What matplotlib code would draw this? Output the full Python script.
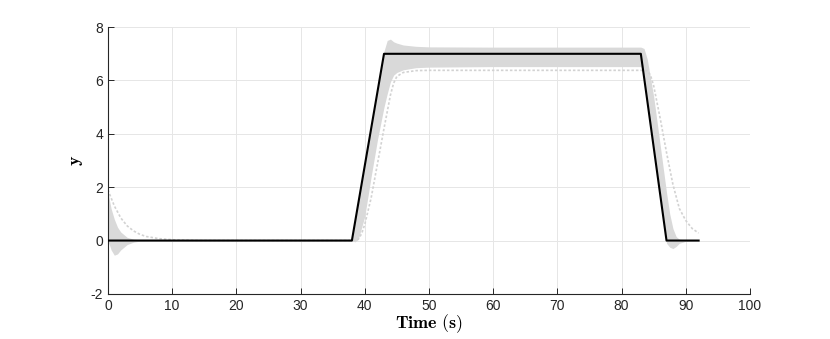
import matplotlib
matplotlib.use("Agg")
import matplotlib.pyplot as plt

# reference trajectory
ref_t = [0, 38, 43, 83, 87, 92]
ref_y = [0, 0, 7, 7, 0, 0]

# envelope of the gray (Monte-Carlo) trajectories
band_t = [0, 0.5, 1, 1.5, 2, 3, 4, 5, 7, 10, 38, 38.5, 39, 40, 41, 42, 43, 43.5, 44,
          44.5, 45, 46, 48, 50, 60, 70, 80, 83, 83.5, 84, 85, 86, 87, 87.5, 88, 88.5,
          89, 90, 92]
band_hi = [1.8, 1.2, 0.8, 0.5, 0.32, 0.12, 0.05, 0.02, 0.01, 0.01, 0.01, 0.75, 1.5, 2.9,
           4.3, 5.7, 7.1, 7.5, 7.55, 7.45, 7.4, 7.33, 7.28, 7.26, 7.25, 7.25, 7.25, 7.25,
           7.2, 6.8, 5.4, 3.6, 1.8, 1.0, 0.45, 0.15, 0.05, 0.02, 0.0]
band_lo = [0.0, -0.35, -0.55, -0.5, -0.35, -0.15, -0.06, -0.02, 0.0, -0.01, -0.01, -0.05,
           0.05, 0.9, 2.4, 3.8, 5.0, 5.5, 5.95, 6.2, 6.3, 6.4, 6.48, 6.5, 6.52, 6.52, 6.52,
           6.52, 6.2, 5.2, 3.45, 1.7, -0.1, -0.25, -0.3, -0.22, -0.1, -0.03, 0.0]

# slowest individual trajectory (dotted)
slow_t = [0, 1, 2, 3, 4, 5, 6, 8, 10, 14, 38, 38.5, 39, 39.5, 40, 41, 42, 43, 44, 44.5,
          45, 46, 48, 50, 60, 70, 80, 83, 84, 84.5, 85, 86, 87, 88, 89, 90, 91, 92]
slow_y = [1.9, 1.3, 0.85, 0.55, 0.36, 0.23, 0.15, 0.07, 0.03, 0.0, 0.0, 0.0, 0.05, 0.25,
          0.6, 1.6, 2.9, 4.2, 5.45, 5.9, 6.15, 6.3, 6.37, 6.38, 6.38, 6.38, 6.38, 6.38,
          6.36, 6.2, 5.8, 4.6, 3.3, 2.1, 1.2, 0.75, 0.45, 0.28]

x_ticks = [0, 10, 20, 30, 40, 50, 60, 70, 80, 90, 100]
y_ticks = [-2, 0, 2, 4, 6, 8]

plt.rcParams['mathtext.fontset'] = 'cm'
plt.rcParams['axes.unicode_minus'] = False
plt.rcParams['font.family'] = ['Liberation Sans', 'DejaVu Sans']

fig = plt.figure(figsize=(8.30, 3.39), dpi=100)
ax = fig.add_axes([0.130, 0.133, 0.7736, 0.787])

gray = '#d9d9d9'
ax.fill_between(band_t, band_lo, band_hi, color=gray, lw=0, zorder=2)
ax.plot(slow_t, slow_y, color='#d2d2d2', lw=1.2, ls=(0, (1.5, 1.2)), zorder=2)
ax.plot(ref_t, ref_y, color='black', lw=1.5, zorder=3)

ax.set_xlim(0, 100)
ax.set_ylim(-2, 8)
ax.set_xticks(x_ticks)
ax.set_yticks(y_ticks)
ax.grid(True, color='#e6e6e6', lw=0.7, zorder=0)
ax.set_axisbelow(True)
for s in ['top', 'right']:
    ax.spines[s].set_visible(False)
for s in ['left', 'bottom']:
    ax.spines[s].set_color('#262626')
    ax.spines[s].set_linewidth(0.8)
ax.tick_params(direction='in', length=4, width=0.7, colors='#262626', labelsize=10)
ax.set_xlabel(r'$\mathbf{Time\ (s)}$', fontsize=13, labelpad=0)
ax.set_ylabel(r'$\mathbf{y}$', fontsize=13, labelpad=4)

fig.savefig('out.png', dpi=100)
